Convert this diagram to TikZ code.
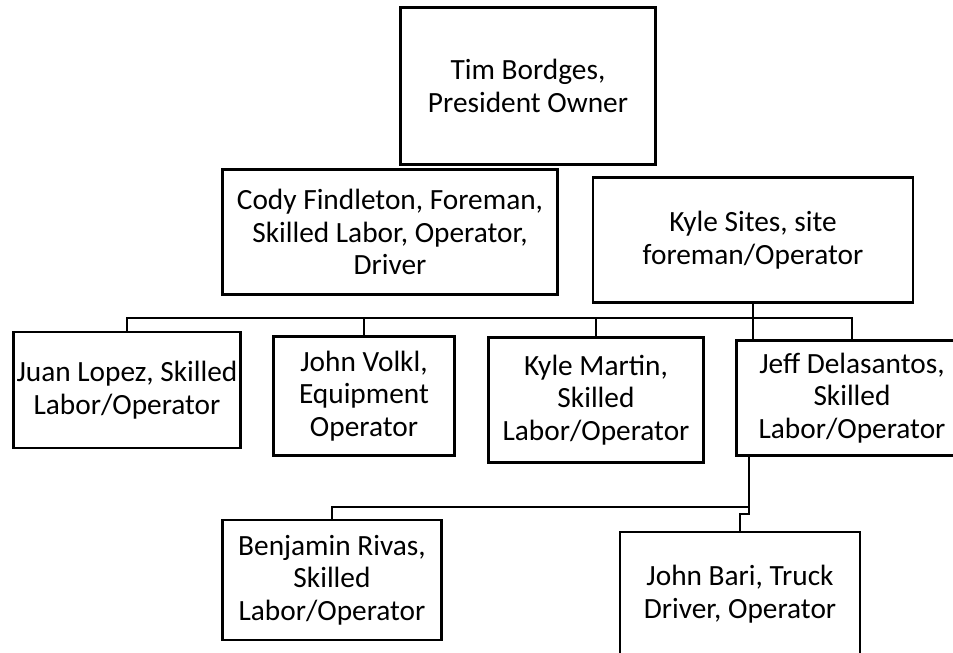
\documentclass[tikz,border=0pt]{standalone}
\usepackage{fontspec}
\setmainfont{Carlito}
\usetikzlibrary{positioning, calc}

\begin{document}
\begin{tikzpicture}[x=0.75pt, y=-0.75pt,
    person/.style={draw, line width=2.2pt, align=center, inner sep=1pt,
                   font=\fontsize{22}{24.5}\selectfont},
    link/.style={line width=1.5pt}]
    \useasboundingbox (0,0) rectangle (953,653);

    % top of the chart
    \node[person, minimum width=191pt, minimum height=118pt] (tim) at (528,86) {Tim Bordges,\\President Owner};
    \node[person, minimum width=251pt, minimum height=94pt] (cody) at (390,232) {Cody Findleton, Foreman,\\Skilled Labor, Operator,\\Driver};
    \node[person, minimum width=240pt, minimum height=94pt] (sites) at (753,240) {Kyle Sites, site\\foreman/Operator};

    % crew row
    \node[person, minimum width=170pt, minimum height=87pt] (juan) at (127,390) {Juan Lopez, Skilled\\Labor/Operator};
    \node[person, minimum width=136pt, minimum height=89pt] (volkl) at (364,396) {John Volkl,\\Equipment\\Operator};
    \node[person, minimum width=161pt, minimum height=94pt] (martin) at (596,400) {Kyle Martin,\\Skilled\\Labor/Operator};
    \node[person, minimum width=173pt, minimum height=86pt] (jeff) at (852,398) {Jeff Delasantos,\\Skilled\\Labor/Operator};

    % bottom row
    \node[person, minimum width=164pt, minimum height=90pt] (benjamin) at (332,580) {Benjamin Rivas,\\Skilled\\Labor/Operator};
    \node[person, minimum width=180pt, minimum height=93pt] (bari) at (740,594) {John Bari, Truck\\Driver, Operator};

    % lines
    \coordinate (bus) at (0,318);
    \draw[link] (juan.north) -- (juan.north |- bus) -- (jeff.north |- bus) -- (jeff.north);
    \draw[link] (volkl.north) -- (volkl.north |- bus);
    \draw[link] (martin.north) -- (martin.north |- bus);
    \draw[link] (sites.south) -- (sites.south |- jeff.north);

    \coordinate (split) at (749,507);
    \draw[link] (jeff.south -| split) -- (split) -| (benjamin.north);
    \draw[link] (split) -- ++(0,7) -| (bari.north);
\end{tikzpicture}
\end{document}
